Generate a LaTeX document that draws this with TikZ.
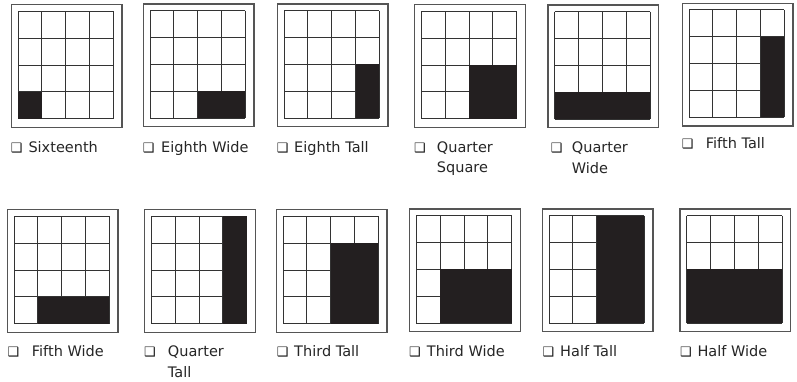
\documentclass[tikz,border=0pt]{standalone}
\usepackage{fontspec}
\setmainfont{DejaVu Sans}
\definecolor{ink}{HTML}{231F20}
\definecolor{lineg}{HTML}{333333}
\definecolor{frameg}{HTML}{555555}
\tikzset{
  frame/.style={draw=frameg, line width=1.3pt, minimum width=110.5pt, minimum height=122.7pt, anchor=north west, inner sep=0pt},
  gridl/.style={draw=lineg, line width=0.9pt},
  blk/.style={fill=ink},
  lbl/.style={anchor=base west, inner sep=0pt, font=\fontsize{14.5}{17}\selectfont, text=black!85},
  cbx/.style={anchor=base west, inner sep=0pt, font=\fontsize{13}{13}\selectfont, text=black!90}
}
% #1 name, #2 x, #3 y, #4 first filled col, #5 last col+1, #6 first filled row
\newcommand{\gpanel}[6]{%
  \node[frame] (#1) at (#2,#3) {};
  \foreach \i in {0,...,4}{
    \draw[gridl] ({#2+7.4+\i*23.825},{#3+7.4}) -- ++(0,107.3);
    \draw[gridl] ({#2+7.4},{#3+7.4+\i*26.825}) -- ++(95.3,0);
  }
  \fill[blk] ({#2+7.4+#4*23.825},{#3+7.4+#6*26.825}) rectangle ({#2+7.4+#5*23.825},{#3+114.7});
}
\begin{document}
\begin{tikzpicture}[x=1pt,y=-1pt]
\useasboundingbox (0,0) rectangle (797,381);
\fill[white] (0,0) rectangle (797,381);
% row 1
\gpanel{p1}{10.7}{4}{0}{1}{3}
\gpanel{p2}{142.7}{3.3}{2}{4}{3}
\gpanel{p3}{276.7}{3.3}{3}{4}{2}
\gpanel{p4}{414}{4}{2}{4}{2}
\gpanel{p5}{547.3}{4.3}{0}{4}{3}
\gpanel{p6}{681.7}{2.5}{3}{4}{1}
% row 2
\gpanel{p7}{6.7}{209}{1}{4}{3}
\gpanel{p8}{144}{209}{3}{4}{0}
\gpanel{p9}{275.7}{209}{2}{4}{1}
\gpanel{p10}{409}{208.3}{1}{4}{2}
\gpanel{p11}{541.7}{208.3}{2}{4}{0}
\gpanel{p12}{679.3}{208.3}{0}{4}{2}
% labels row 1
\node[cbx] (c1) at (10.7,152) {❑};
\node[lbl] (l1) at (28.3,152) {Sixteenth};
\node[cbx] (c2) at (142.7,152) {❑};
\node[lbl] (l2) at (161,152) {Eighth Wide};
\node[cbx] (c3) at (276.7,152) {❑};
\node[lbl] (l3) at (294,152) {Eighth Tall};
\node[cbx] (c4) at (414,152) {❑};
\node[lbl] (l4) at (436.7,152) {Quarter};
\node[lbl] (l4b) at (436.7,172.7) {Square};
\node[cbx] (c5) at (550.7,152.7) {❑};
\node[lbl] (l5) at (571.7,152.7) {Quarter};
\node[lbl] (l5b) at (571.7,173.3) {Wide};
\node[cbx] (c6) at (681.7,148.3) {❑};
\node[lbl] (l6) at (705.7,148.3) {Fifth Tall};
% labels row 2
\node[cbx] (c7) at (7.3,356.7) {❑};
\node[lbl] (l7) at (31.7,356.7) {Fifth Wide};
\node[cbx] (c8) at (144,356.7) {❑};
\node[lbl] (l8) at (167.7,356.7) {Quarter};
\node[lbl] (l8b) at (167.7,377.7) {Tall};
\node[cbx] (c9) at (276.7,356.7) {❑};
\node[lbl] (l9) at (294,356.7) {Third Tall};
\node[cbx] (c10) at (409,356.7) {❑};
\node[lbl] (l10) at (426.7,356.7) {Third Wide};
\node[cbx] (c11) at (542.3,356.7) {❑};
\node[lbl] (l11) at (560,356.7) {Half Tall};
\node[cbx] (c12) at (680,356.7) {❑};
\node[lbl] (l12) at (697.3,356.7) {Half Wide};
\end{tikzpicture}
\end{document}
